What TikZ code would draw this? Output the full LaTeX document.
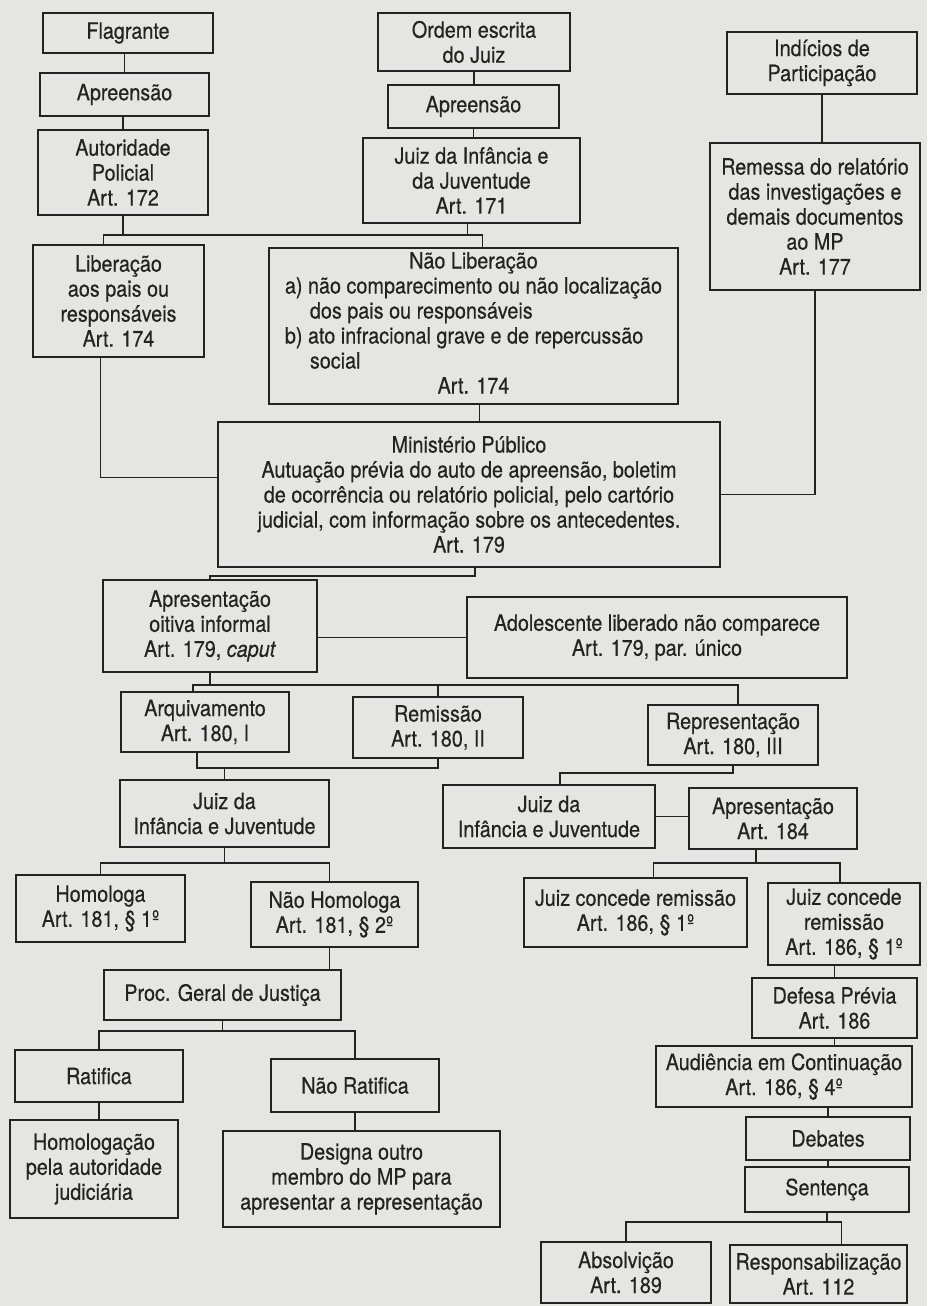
\documentclass[tikz,border=0pt]{standalone}
\usepackage{fontspec}
\setmainfont{TeX Gyre Heros}[FakeStretch=0.88,FakeBold=0.4]
\usepackage{tikz}
\definecolor{PaperGray}{RGB}{229,229,227}
\definecolor{InkBlack}{RGB}{35,35,35}

\begin{document}
\begin{tikzpicture}[x=1pt,y=-1pt,
    caixa/.style={draw=InkBlack,line width=1.5pt,align=center,inner sep=2pt,
      text=InkBlack,font=\fontsize{22.5pt}{25pt}\selectfont},
    tam/.style 2 args={minimum width=#1pt,minimum height=#2pt},
    liga/.style={draw=InkBlack,line width=1.1pt}]
  \fill[PaperGray] (0,0) rectangle (927,1306);
  \useasboundingbox (0,0) rectangle (927,1306);

  \node[caixa,tam={170}{40}] (flag) at (128,33) {Flagrante};
  \node[caixa,tam={169}{43}] (apreA) at (124.5,94.5) {Apreensão};
  \node[caixa,tam={170}{85}] (autPol) at (123,172.5) {Autoridade\\Policial\\Art. 172};
  \node[caixa,tam={171}{112}] (liber) at (118.5,301) {Liberação\\aos pais ou\\responsáveis\\Art. 174};
  \node[caixa,tam={192}{58}] (ordem) at (474,42) {Ordem escrita\\do Juiz};
  \node[caixa,tam={171}{43}] (apreB) at (473.5,106.5) {Apreensão};
  \node[caixa,tam={217}{85}] (juizA) at (471.5,180.5) {Juiz da Infância e\\da Juventude\\Art. 171};
  \node[caixa,tam={409}{156}] (naoLib) at (473.5,326) {\begin{tabular}{@{}l@{}}
      \multicolumn{1}{@{}c@{}}{Não Liberação}\\
      a) não comparecimento ou não localização\\
      \hspace*{25pt}dos pais ou responsáveis\\
      b) ato infracional grave e de repercussão\\
      \hspace*{25pt}social\\
      \multicolumn{1}{@{}c@{}}{Art. 174}
    \end{tabular}};
  \node[caixa,tam={190}{62}] (indic) at (822,63) {Indícios de\\Participação};
  \node[caixa,tam={210}{147}] (remessa) at (815,216.5) {Remessa do relatório\\das investigações e\\demais documentos\\ao MP\\Art. 177};
  \node[caixa,tam={502}{145}] (mp) at (469,494.5) {Ministério Público\\Autuação prévia do auto de apreensão, boletim\\de ocorrência ou relatório policial, pelo cartório\\judicial, com informação sobre os antecedentes.\\Art. 179};
  \node[caixa,tam={214}{92}] (apresOit) at (210,626) {Apresentação\\oitiva informal\\Art. 179, \textit{caput}};
  \node[caixa,tam={380}{81}] (adol) at (657,637.5) {Adolescente liberado não comparece\\Art. 179, par. único};
  \node[caixa,tam={168}{60}] (arquiv) at (205,722) {Arquivamento\\Art. 180, I};
  \node[caixa,tam={170}{61}] (remis) at (438,727.5) {Remissão\\Art. 180, II};
  \node[caixa,tam={170}{60}] (repres) at (733,735) {Representação\\Art. 180, III};
  \node[caixa,tam={209}{67}] (juizB) at (224.5,813.5) {Juiz da\\Infância e Juventude};
  \node[caixa,tam={212}{63}] (juizC) at (549,816.5) {Juiz da\\Infância e Juventude};
  \node[caixa,tam={168}{61}] (apres184) at (773,818.5) {Apresentação\\Art. 184};
  \node[caixa,tam={169}{67}] (homol) at (100.5,908.5) {Homologa\\Art. 181, § 1º};
  \node[caixa,tam={167}{65}] (naoHomol) at (334.5,914.5) {Não Homologa\\Art. 181, § 2º};
  \node[caixa,tam={223}{69}] (remisA) at (635.5,912.5) {Juiz concede remissão\\Art. 186, § 1º};
  \node[caixa,tam={152}{82}] (remisB) at (844,924) {Juiz concede\\remissão\\Art. 186, § 1º};
  \node[caixa,tam={237}{50}] (procG) at (222.5,995) {Proc. Geral de Justiça};
  \node[caixa,tam={168}{52}] (ratif) at (99,1076) {Ratifica};
  \node[caixa,tam={168}{53}] (naoRatif) at (355,1085.5) {Não Ratifica};
  \node[caixa,tam={168}{98}] (homolJud) at (94,1169) {Homologação\\pela autoridade\\judiciária};
  \node[caixa,tam={277}{96}] (designa) at (361.5,1179) {Designa outro\\membro do MP para\\apresentar a representação};
  \node[caixa,tam={165}{60}] (defesa) at (834.5,1008) {Defesa Prévia\\Art. 186};
  \node[caixa,tam={256}{61}] (audien) at (784,1076.5) {Audiência em Continuação\\Art. 186, § 4º};
  \node[caixa,tam={164}{43}] (debates) at (828,1138.5) {Debates};
  \node[caixa,tam={164}{45}] (sentenca) at (827,1189.5) {Sentença};
  \node[caixa,tam={170}{61}] (absolv) at (626,1272.5) {Absolvição\\Art. 189};
  \node[caixa,tam={177}{58}] (respons) at (818.5,1274) {Responsabilização\\Art. 112};

  \coordinate (busLib) at (300,235);
  \coordinate (busMP) at (350,576);
  \coordinate (busArq) at (450,685);
  \coordinate (busJuiz) at (300,768);
  \coordinate (busHom) at (200,863);
  \coordinate (busRat) at (220,1031);
  \coordinate (busRep) at (650,773);
  \coordinate (busConc) at (750,863);
  \coordinate (busSent) at (720,1222);

  \draw[liga] (apreA.north |- flag.south) -- (apreA.north);
  \draw[liga] (autPol.north |- apreA.south) -- (autPol.north);
  \draw[liga] ([xshift=-15pt]liber.north) |- (busLib) -| ([xshift=9pt]naoLib.north);
  \draw[liga] (autPol.south) -- (autPol.south |- busLib);
  \draw[liga] ([xshift=-4pt]juizA.south) |- (busLib);
  \draw[liga] (ordem.south) -- (ordem.south |- apreB.north);
  \draw[liga] (apreB.south) -- (apreB.south |- juizA.north);
  \draw[liga] (indic.south) -- (indic.south |- remessa.north);
  \draw[liga] (remessa.south) |- (mp.east);
  \draw[liga] ([xshift=-18pt]liber.south) |- ([yshift=17pt]mp.west);
  \draw[liga] ([xshift=6pt]naoLib.south) |- ([xshift=6pt]mp.north);
  \draw[liga] ([xshift=6pt]mp.south) |- (busMP) -| (apresOit.north);
  \draw[liga] (adol.west -| apresOit.east) -- (adol.west);
  \draw[liga] ([xshift=-12pt]arquiv.north) |- (busArq) -| ([xshift=5pt]repres.north);
  \draw[liga] (apresOit.south) |- (busArq);
  \draw[liga] (remis.north) -- (remis.north |- busArq);
  \draw[liga] ([xshift=-8pt]arquiv.south) |- (busJuiz) -| (remis.south);
  \draw[liga] (juizB.north) |- (busJuiz);
  \draw[liga] (homol.north) |- (busHom) -| ([xshift=-5pt]naoHomol.north);
  \draw[liga] (juizB.south) |- (busHom);
  \draw[liga] ([xshift=-5pt]naoHomol.south) |- ([xshift=106pt]procG.north);
  \draw[liga] (ratif.north) |- (busRat) -| (naoRatif.north);
  \draw[liga] (procG.south) |- (busRat);
  \draw[liga] (ratif.south) -- (ratif.south |- homolJud.north);
  \draw[liga] (naoRatif.south) -- (naoRatif.south |- designa.north);
  \draw[liga] (repres.south) |- (busRep) -| ([xshift=11pt]juizC.north);
  \draw[liga] (juizC.east) -- (juizC.east -| apres184.west);
  \draw[liga] ([xshift=18pt]remisA.north) |- (busConc) -| ([xshift=-4pt]remisB.north);
  \draw[liga] ([xshift=-17pt]apres184.south) |- (busConc);
  \draw[liga] (defesa.north |- remisB.south) -- (defesa.north);
  \draw[liga] (defesa.south) -- (defesa.south |- audien.north);
  \draw[liga] (debates.north |- audien.south) -- (debates.north);
  \draw[liga] (debates.south) -- (debates.south |- sentenca.north);
  \draw[liga] (absolv.north) |- (busSent) -| ([xshift=23pt]respons.north);
  \draw[liga] (sentenca.south) |- (busSent);
\end{tikzpicture}
\end{document}
